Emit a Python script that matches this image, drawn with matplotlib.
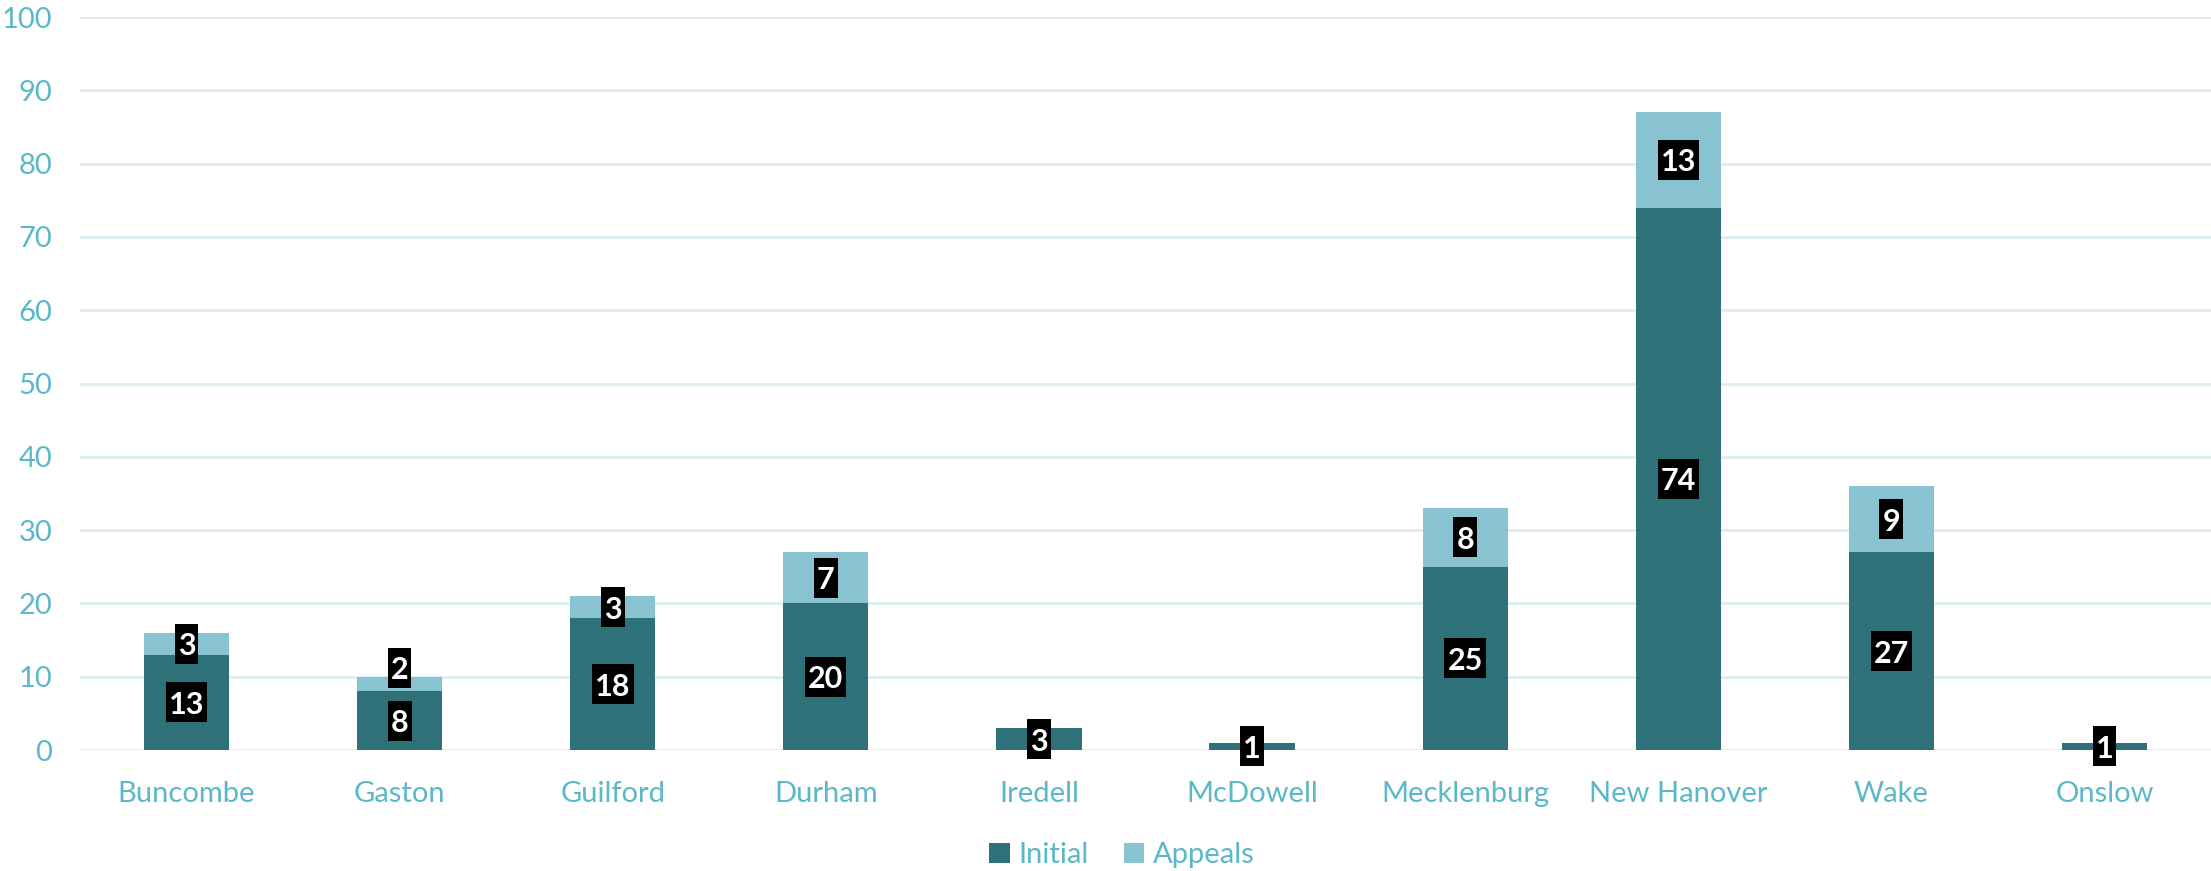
import matplotlib
matplotlib.use("Agg")
import matplotlib.pyplot as plt
from matplotlib.patches import Rectangle
import numpy as np

counties = ["Buncombe", "Gaston", "Guilford", "Durham", "Iredell", "McDowell",
            "Mecklenburg", "New Hanover", "Wake", "Onslow"]
initial = [13, 8, 18, 20, 3, 1, 25, 74, 27, 1]
appeals = [3, 2, 3, 7, 0, 0, 8, 13, 9, 0]
yticks = [0, 10, 20, 30, 40, 50, 60, 70, 80, 90, 100]

dark = "#2E7179"
light = "#89C2D0"
txt = "#5BB8C8"
grid = "#DDEEF3"

plt.rcParams['font.family'] = ['Lato', 'DejaVu Sans']

fig = plt.figure(figsize=(22.11, 8.71), dpi=100)
ax = fig.add_axes([80/2211, 121/871, (2211-80)/2211, (750-17)/871])

x = np.arange(len(counties))
w = 0.40
b1 = ax.bar(x, initial, w, color=dark, label="Initial", zorder=3)
b2 = ax.bar(x, appeals, w, bottom=initial, color=light, label="Appeals", zorder=3)

ax.set_xlim(-0.5, len(x) - 0.5)
ax.set_ylim(0, 100)
ax.set_yticks(yticks)
ax.set_xticks(x)
ax.set_xticklabels(counties)
ax.tick_params(axis="both", length=0, labelsize=21, colors=txt)
ax.tick_params(axis="y", pad=20)
ax.tick_params(axis="x", pad=22)
ax.grid(axis="y", color=grid, linewidth=2, zorder=0)
for s in ax.spines.values():
    s.set_visible(False)

leg = fig.legend(handles=[b1, b2], labels=["Initial", "Appeals"], loc="center",
                 bbox_to_anchor=(1122/2211, 1 - 855/871), ncol=2, frameon=False,
                 fontsize=21, handlelength=0.7, handleheight=0.7,
                 handletextpad=0.3, columnspacing=1.2)
for t in leg.get_texts():
    t.set_color(txt)

BOX_H = 40  # px
GAP = 13    # px
px_per_unit = ax.transData.transform((0, 1))[1] - ax.transData.transform((0, 0))[1]
min_sep = (BOX_H + GAP) / px_per_unit

labels = []
for i in range(len(x)):
    y0 = initial[i] / 2
    labels.append(ax.text(x[i], y0, str(initial[i]), ha="center",
                          va="center_baseline", color="white", fontsize=22,
                          fontweight="bold", zorder=6))
    if appeals[i] > 0:
        y1 = initial[i] + appeals[i] / 2
        y1 = max(y1, y0 + min_sep)
        labels.append(ax.text(x[i], y1, str(appeals[i]), ha="center",
                              va="center_baseline", color="white", fontsize=22,
                              fontweight="bold", zorder=6))

fig.canvas.draw()
r = fig.canvas.get_renderer()
inv = ax.transData.inverted()
for t in labels:
    bb = t.get_window_extent(renderer=r)
    cx = (bb.x0 + bb.x1) / 2
    cy = ax.transData.transform(t.get_position())[1]
    bw = bb.width + 6
    (dx0, dy0) = inv.transform((cx - bw / 2, cy - BOX_H / 2))
    (dx1, dy1) = inv.transform((cx + bw / 2, cy + BOX_H / 2))
    rect = Rectangle((dx0, dy0), dx1 - dx0, dy1 - dy0, facecolor="black",
                     edgecolor="none", zorder=5, clip_on=False)
    ax.add_patch(rect)

fig.savefig("out.png", dpi=100)
